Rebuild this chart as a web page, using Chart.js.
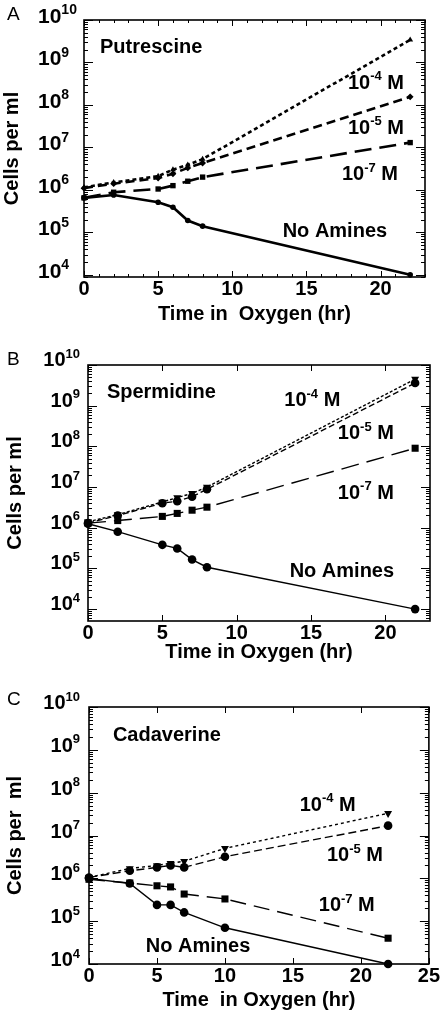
<!DOCTYPE html>
<html>
<head>
<meta charset="utf-8">
<script src="https://cdn.jsdelivr.net/npm/chart.js@4.4.1/dist/chart.umd.min.js"></script>
<style>
  html, body { margin: 0; padding: 0; background: #fff; }
  body { width: 440px; height: 1012px; position: relative; overflow: hidden; }
  canvas { position: absolute; left: 0; }
</style>
</head>
<body>
<canvas id="chartA" width="440" height="326" style="top:0"></canvas>
<canvas id="chartB" width="440" height="338" style="top:326px"></canvas>
<canvas id="chartC" width="440" height="348" style="top:664px"></canvas>
<script>
// Panel A - Putrescine
const hoursA = [0, 2, 5, 6, 7, 8, 22];
const putNone = [6.5e5, 7.6e5, 5.1e5, 3.9e5, 1.9e5, 1.4e5, 1.0e4];
const putM7 = [6.5e5, 8.8e5, 1.05e6, 1.26e6, 1.6e6, 2.0e6, 1.3e7];
const putM5 = [1.1e6, 1.4e6, 1.9e6, 2.4e6, 3.3e6, 4.3e6, 1.55e8];
const putM4 = [1.15e6, 1.5e6, 2.1e6, 3.0e6, 3.9e6, 5.3e6, 3.4e9];

// Panel B - Spermidine
const hoursB = [0, 2, 5, 6, 7, 8, 22];
const speNone = [1.25e6, 8.0e5, 3.8e5, 3.1e5, 1.65e5, 1.07e5, 1.0e4];
const speM7 = [1.3e6, 1.5e6, 1.9e6, 2.25e6, 2.7e6, 3.2e6, 9.0e7];
const speM5 = [1.3e6, 2.0e6, 4.0e6, 4.5e6, 5.8e6, 8.8e6, 3.6e9];
const speM4 = [1.4e6, 2.1e6, 4.3e6, 5.5e6, 7.0e6, 1.0e7, 4.5e9];

// Panel C - Cadaverine
const hoursC = [0, 3, 5, 6, 7, 10, 22];
const cadNone = [1.0e6, 7.6e5, 2.4e5, 2.4e5, 1.6e5, 7.0e4, 1.0e4];
const cadM7 = [9.5e5, 7.8e5, 6.7e5, 6.3e5, 4.3e5, 3.3e5, 4.0e4];
const cadM5 = [1.05e6, 1.5e6, 1.8e6, 2.0e6, 1.8e6, 3.2e6, 1.7e7];
const cadM4 = [1.05e6, 1.7e6, 2.0e6, 2.25e6, 2.5e6, 5.0e6, 3.3e7];

// y tick exponents (labels 10^n)
const decades = [4, 5, 6, 7, 8, 9, 10];

// text labels inside each plot: [base, superscript, rest]
const notesA = [['Putrescine', '', ''], ['10', '-4', ' M'], ['10', '-5', ' M'], ['10', '-7', ' M'], ['No Amines', '', '']];
const spotsA = [[1.08, 9.38], [17.8, 8.55], [17.8, 7.49], [17.4, 6.4], [13.4, 5.05]];
const notesB = [['Spermidine', '', ''], ['10', '-4', ' M'], ['10', '-5', ' M'], ['10', '-7', ' M'], ['No Amines', '', '']];
const spotsB = [[1.27, 9.36], [13.2, 9.16], [16.8, 8.35], [16.8, 6.89], [13.56, 4.96]];
const notesC = [['Cadaverine', '', ''], ['10', '-4', ' M'], ['10', '-5', ' M'], ['10', '-7', ' M'], ['No Amines', '', '']];
const spotsC = [[1.76, 9.38], [15.5, 7.74], [17.5, 6.56], [16.9, 5.39], [4.18, 4.45]];

const FONT = "'Liberation Sans', Arial, Helvetica, sans-serif";

function pairs(xs, ys) {
    return xs.map((x, i) => ({ x: x, y: ys[i] }));
}

// draws "base" + raised "sup" + "rest", baseline at y
function richText(ctx, parts, x, y, size, align) {
    const supSize = Math.round(size * 0.65);
    ctx.font = 'bold ' + size + 'px ' + FONT;
    const w1 = ctx.measureText(parts[0]).width;
    const w3 = ctx.measureText(parts[2]).width;
    ctx.font = 'bold ' + supSize + 'px ' + FONT;
    const w2 = ctx.measureText(parts[1]).width;
    let sx = align === 'right' ? x - (w1 + w2 + w3) : x;
    ctx.textAlign = 'left';
    ctx.textBaseline = 'alphabetic';
    ctx.font = 'bold ' + size + 'px ' + FONT;
    ctx.fillText(parts[0], sx, y);
    ctx.font = 'bold ' + supSize + 'px ' + FONT;
    ctx.fillText(parts[1], sx + w1, y - size * 0.42);
    ctx.font = 'bold ' + size + 'px ' + FONT;
    ctx.fillText(parts[2], sx + w1 + w2, y);
}

const framePlugin = {
    id: 'frame',
    afterDraw(chart, args, o) {
        const ctx = chart.ctx;
        const xs = chart.scales.x, ys = chart.scales.y;
        const { left, right, top, bottom } = chart.chartArea;
        ctx.save();
        ctx.strokeStyle = '#000';
        ctx.fillStyle = '#000';

        // ticks on all four sides, pointing in
        ctx.lineWidth = 1;
        ctx.beginPath();
        xs.ticks.forEach(t => {
            const px = Math.round(xs.getPixelForValue(t.value)) + 0.5;
            ctx.moveTo(px, bottom); ctx.lineTo(px, bottom - 6);
            ctx.moveTo(px, top); ctx.lineTo(px, top + 6);
        });
        if (o.xMinor) {
            for (let v = 0; v <= xs.max; v++) {
                if (v % 5 === 0) continue;
                const px = Math.round(xs.getPixelForValue(v)) + 0.5;
                ctx.moveTo(px, bottom); ctx.lineTo(px, bottom - 3);
                ctx.moveTo(px, top); ctx.lineTo(px, top + 3);
            }
        }
        for (let e = 3; e <= 10; e++) {
            for (let k = 1; k <= 9; k++) {
                const v = k * Math.pow(10, e);
                if (v < ys.min || v > ys.max) continue;
                const py = Math.round(ys.getPixelForValue(v)) + 0.5;
                const len = k === 1 ? 9 : 4;
                ctx.moveTo(left, py); ctx.lineTo(left + len, py);
                ctx.moveTo(right, py); ctx.lineTo(right - len, py);
            }
        }
        ctx.stroke();

        ctx.lineWidth = 1.6;
        ctx.strokeRect(left, top, right - left, bottom - top);

        // y tick labels 10^n
        decades.forEach(e => {
            const py = ys.getPixelForValue(Math.pow(10, e));
            richText(ctx, ['10', String(e), ''], o.labelX, py + o.labelDy, o.labelSize, o.labelAlign);
        });

        // notes inside the plot
        o.notes.forEach((n, i) => {
            const px = xs.getPixelForValue(o.spots[i][0]);
            const py = ys.getPixelForValue(Math.pow(10, o.spots[i][1]));
            richText(ctx, n, px, py + 7, 20, 'left');
        });

        // panel letter
        ctx.font = '19px ' + FONT;
        ctx.textAlign = 'left';
        ctx.textBaseline = 'alphabetic';
        ctx.fillText(o.letter, 7, o.letterY);
        ctx.restore();
    }
};

function line(label, xs, ys, dash, width, style, radius, rotation) {
    return {
        label: label,
        data: pairs(xs, ys),
        borderColor: '#000',
        backgroundColor: '#000',
        borderWidth: width,
        borderDash: dash,
        pointStyle: style,
        pointRadius: radius,
        pointRotation: rotation || 0,
        pointBorderWidth: 0,
        tension: 0,
        clip: false
    };
}

function makePanel(id, cfg) {
    return new Chart(document.getElementById(id), {
        type: 'line',
        data: { datasets: cfg.datasets },
        options: {
            responsive: false,
            animation: false,
            devicePixelRatio: 1,
            layout: { padding: { top: cfg.padTop, right: cfg.padRight, left: 0, bottom: 0 } },
            plugins: {
                legend: { display: false },
                tooltip: { enabled: false },
                frame: cfg.frame
            },
            scales: {
                x: {
                    type: 'linear',
                    min: 0,
                    max: cfg.xMax,
                    grid: { display: false, drawTicks: false },
                    border: { display: false },
                    afterBuildTicks: s => { s.ticks = s.ticks.filter(t => t.value % 5 === 0); },
                    afterFit: s => { s.height = cfg.xHeight; },
                    ticks: {
                        stepSize: 5,
                        color: '#000',
                        padding: 0,
                        maxRotation: 0,
                        font: { family: FONT, size: 20, weight: 'bold' }
                    },
                    title: {
                        display: true,
                        text: cfg.xTitle,
                        color: '#000',
                        padding: { top: 0, bottom: cfg.xTitlePad },
                        font: { family: FONT, size: 20, weight: 'bold' }
                    }
                },
                y: {
                    type: 'logarithmic',
                    min: cfg.yMin,
                    max: 1e10,
                    grid: { display: false, drawTicks: false },
                    border: { display: false },
                    afterFit: s => { s.width = cfg.yWidth; },
                    ticks: { display: false },
                    title: {
                        display: true,
                        text: cfg.yTitle,
                        color: '#000',
                        padding: { top: cfg.yTitlePad, bottom: 0 },
                        font: { family: FONT, size: 20, weight: 'bold' }
                    }
                }
            }
        },
        plugins: [framePlugin]
    });
}

makePanel('chartA', {
    datasets: [
        line('No Amines', hoursA, putNone, [], 2.6, 'circle', 2.8),
        line('10-7 M', hoursA, putM7, [17, 8], 2.6, 'rect', 3.8),
        line('10-5 M', hoursA, putM5, [9, 5], 2.6, 'rectRot', 3.4),
        line('10-4 M', hoursA, putM4, [4, 3], 2.6, 'triangle', 3.4)
    ],
    padTop: 20, padRight: 15, xMax: 23, xHeight: 49, xTitlePad: 0,
    yMin: 8.9e3, yWidth: 84, yTitlePad: 0,
    xTitle: 'Time in  Oxygen (hr)', yTitle: 'Cells per ml',
    frame: { xMinor: true, labelX: 38, labelDy: 3, labelSize: 21, labelAlign: 'left', notes: notesA, spots: spotsA, letter: 'A', letterY: 20 }
});

makePanel('chartB', {
    datasets: [
        line('No Amines', hoursB, speNone, [], 1.4, 'circle', 4.3),
        line('10-7 M', hoursB, speM7, [18, 8], 1.4, 'rect', 5),
        line('10-5 M', hoursB, speM5, [6, 3], 1.4, 'circle', 4.3),
        line('10-4 M', hoursB, speM4, [3, 2], 1.4, 'triangle', 4.6, 180)
    ],
    padTop: 39, padRight: 10, xMax: 23, xHeight: 43, xTitlePad: 0,
    yMin: 5.1e3, yWidth: 88, yTitlePad: 3,
    xTitle: 'Time in Oxygen (hr)', yTitle: 'Cells per ml',
    frame: { xMinor: false, labelX: 80, labelDy: 1, labelSize: 20, labelAlign: 'right', notes: notesB, spots: spotsB, letter: 'B', letterY: 39 }
});

makePanel('chartC', {
    datasets: [
        line('No Amines', hoursC, cadNone, [], 1.4, 'circle', 4.3),
        line('10-7 M', hoursC, cadM7, [16, 8], 1.4, 'rect', 5),
        line('10-5 M', hoursC, cadM5, [8, 4], 1.4, 'circle', 4.3),
        line('10-4 M', hoursC, cadM4, [3, 3], 1.4, 'triangle', 4.6, 180)
    ],
    padTop: 43, padRight: 10, xMax: 25, xHeight: 48, xTitlePad: 0,
    yMin: 1e4, yWidth: 89, yTitlePad: 3,
    xTitle: 'Time  in Oxygen (hr)', yTitle: 'Cells per  ml',
    frame: { xMinor: false, labelX: 80, labelDy: 2, labelSize: 20, labelAlign: 'right', notes: notesC, spots: spotsC, letter: 'C', letterY: 41 }
});
</script>
</body>
</html>
